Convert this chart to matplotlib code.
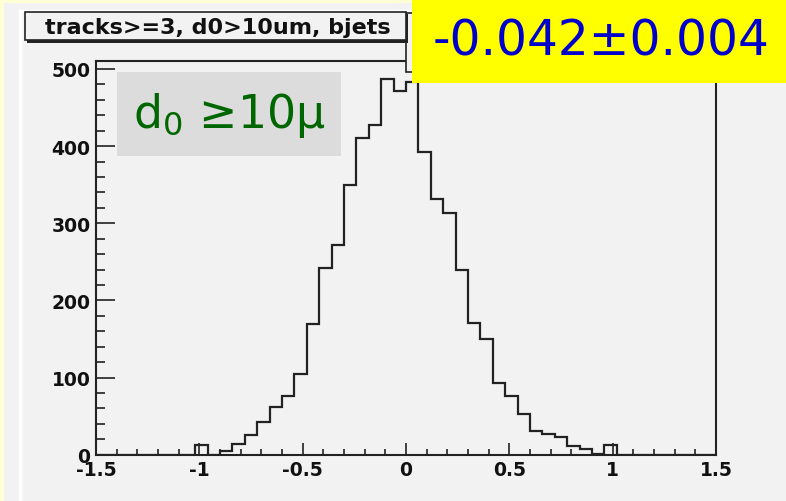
import matplotlib
matplotlib.use('Agg')
import matplotlib.pyplot as plt
import numpy as np
from matplotlib.patches import Rectangle
from matplotlib.lines import Line2D
from matplotlib.ticker import MultipleLocator

# histogram: 50 bins from -1.5 to 1.5
x_lo, x_hi, n_bins = -1.5, 1.5, 50
counts = [0, 0, 0, 0, 0, 0, 0, 0, 12, 0,
          5, 14, 26, 43, 62, 76, 105, 170, 242, 272,
          349, 410, 427, 487, 471, 483, 393, 332, 313, 240,
          171, 150, 93, 76, 53, 31, 27, 23, 11, 8,
          1, 13, 0, 0, 0, 0, 0, 0, 0, 0]
x_ticks = [-1.5, -1, -0.5, 0, 0.5, 1, 1.5]
x_ticklabels = ['-1.5', '-1', '-0.5', '0', '0.5', '1', '1.5']
y_ticks = [0, 100, 200, 300, 400, 500]
title = 'tracks>=3, d0>10um, bjets'
result = '-0.042\u00b10.004'
cut_label = 'd$_0$ \u226510\u03bc'

W, H = 786, 502
fig = plt.figure(figsize=(W / 100, H / 100), dpi=100, facecolor='#FFFFD6')


def box(x0, y0, x1, y1, **kw):
    # pixel coords, origin top-left
    r = Rectangle((x0 / W, 1 - y1 / H), (x1 - x0) / W, (y1 - y0) / H,
                  transform=fig.transFigure, **kw)
    fig.patches.append(r)
    return r


# canvas and pad border
box(4, 4, W + 2, H + 2, fc='#F2F2F2', ec='none', zorder=-2)
fig.lines.append(Line2D([19.5 / W, 19.5 / W], [0, 1 - 11.5 / H], transform=fig.transFigure,
                        color='white', lw=2.5, zorder=-1))
fig.lines.append(Line2D([19.5 / W, 1], [1 - 11.5 / H, 1 - 11.5 / H], transform=fig.transFigure,
                        color='white', lw=2.5, zorder=-1))

ax = fig.add_axes([96 / W, 1 - 455.7 / H, 620 / W, 394.2 / H])
ax.set_facecolor('#F2F2F2')
edges = np.linspace(x_lo, x_hi, n_bins + 1)
ax.stairs(counts, edges, color='#222222', lw=1.6, baseline=0)
ax.set_xlim(x_lo, x_hi)
ax.set_ylim(0, 511)

ax.set_xticks(x_ticks)
ax.set_xticklabels(x_ticklabels)
ax.set_yticks(y_ticks)
ax.xaxis.set_minor_locator(MultipleLocator(0.1))
ax.yaxis.set_minor_locator(MultipleLocator(20))
ax.tick_params(axis='x', which='major', direction='in', length=8.5, width=1.2, pad=4, color='#222222')
ax.tick_params(axis='x', which='minor', direction='in', length=4.3, width=1.2, color='#222222')
ax.tick_params(axis='y', which='major', direction='in', length=13.5, width=1.2, pad=4, color='#222222')
ax.tick_params(axis='y', which='minor', direction='in', length=6.8, width=1.2, color='#222222')
for lab in ax.get_xticklabels() + ax.get_yticklabels():
    lab.set_fontfamily('DejaVu Sans')
    lab.set_fontweight('bold')
    lab.set_fontsize(13.5)
    lab.set_color('#111111')
for s in ax.spines.values():
    s.set_linewidth(1.5)
    s.set_color('#222222')

# stats box (mostly hidden) and title box
box(406, 14, W + 5, 73, fc='#F2F2F2', ec='#222222', lw=1.2, zorder=2)
box(27, 15, 408, 43.5, fc='#222222', ec='none', zorder=2)
box(25, 13, 406, 41, fc='#F2F2F2', ec='#222222', lw=1.2, zorder=2)
fig.text(45 / W, 1 - 28 / H, title, fontsize=16, fontweight='bold', family='DejaVu Sans',
         color='#111111', ha='left', va='center', zorder=3)

# cut label
box(117, 73, 341, 157, fc='#DCDCDC', ec='none', zorder=2)
fig.text(229 / W, 1 - 115 / H, cut_label, fontsize=33, color='#006600', family='DejaVu Sans',
         ha='center', va='center', zorder=3)

# result box
box(412, 1, W + 2, 84, fc='#FFFF00', ec='none', zorder=4)
fig.text(601 / W, 1 - 42 / H, result, fontsize=35, color='#0000CC', family='DejaVu Sans',
         ha='center', va='center', zorder=5)

fig.savefig('out.png', dpi=100, facecolor=fig.get_facecolor())
